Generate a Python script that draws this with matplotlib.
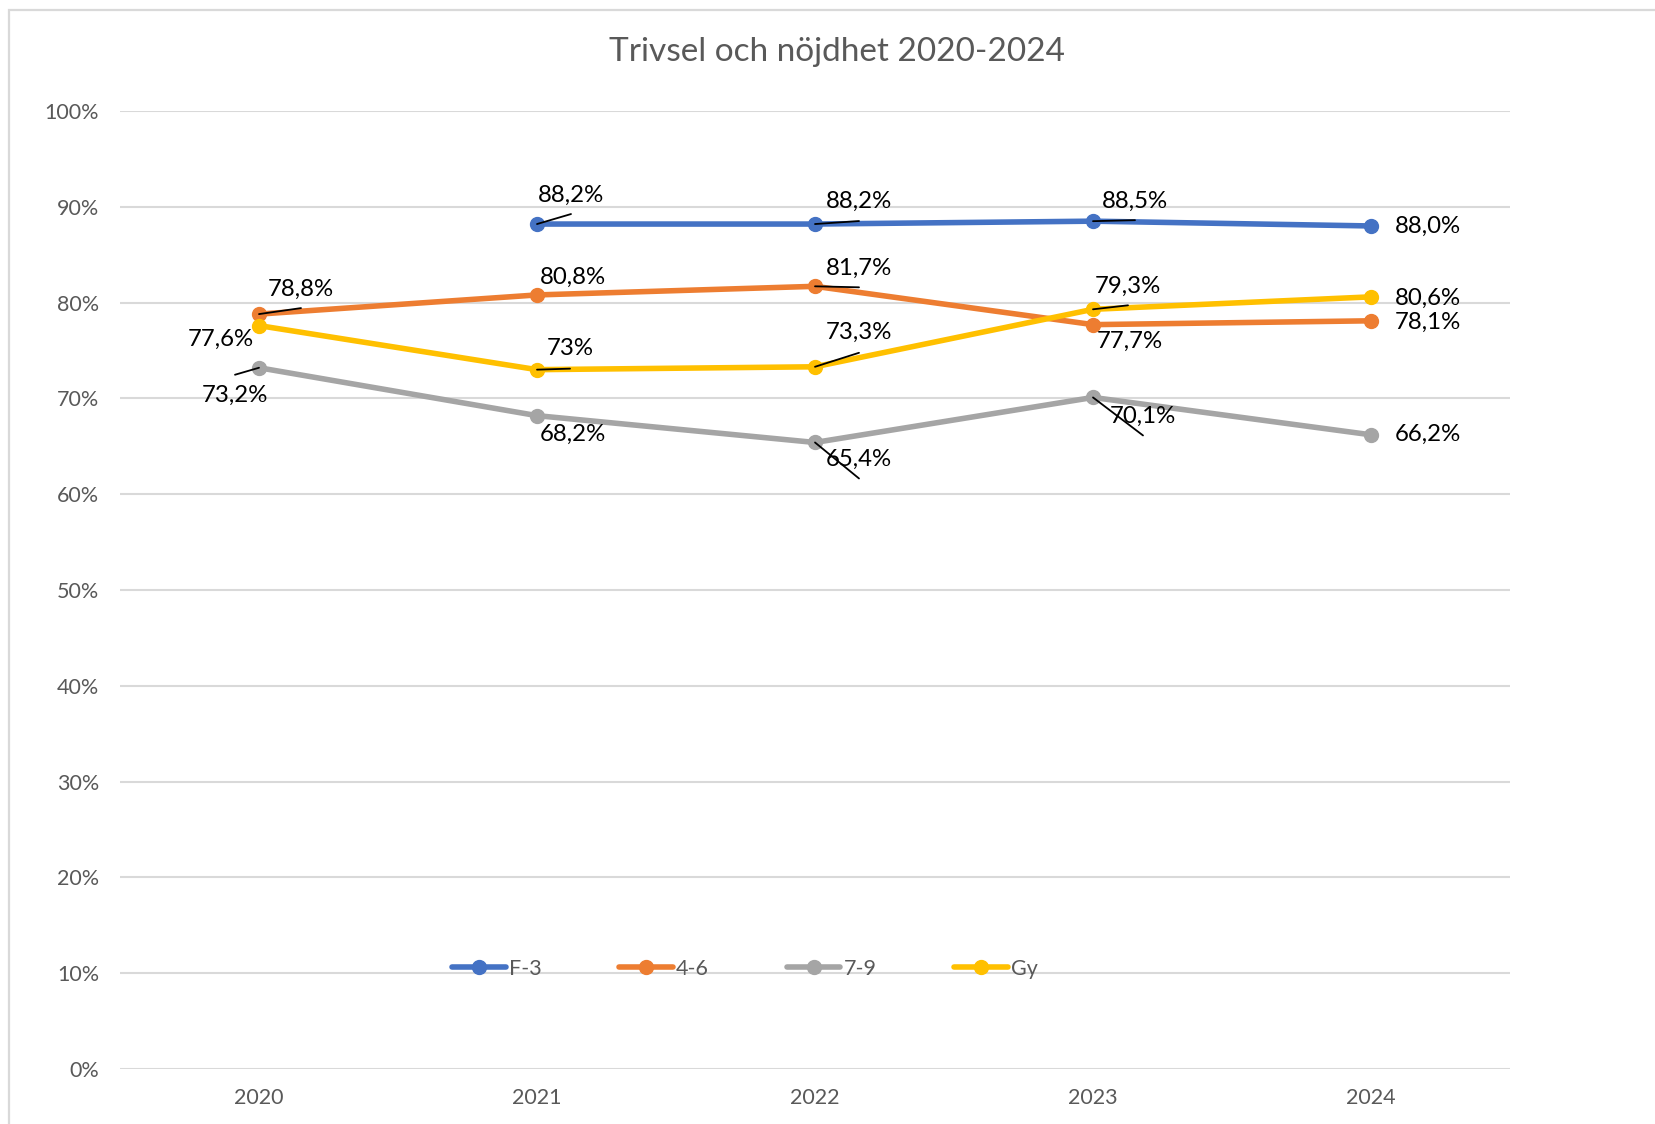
import numpy as np
import matplotlib
matplotlib.use("Agg")
from matplotlib import pyplot as plt
from matplotlib.patches import Rectangle

# data
years = ["2020", "2021", "2022", "2023", "2024"]
f3 = [np.nan, 88.2, 88.2, 88.5, 88.0]
g46 = [78.8, 80.8, 81.7, 77.7, 78.1]
g79 = [73.2, 68.2, 65.4, 70.1, 66.2]
gy = [77.6, 73.0, 73.3, 79.3, 80.6]

f3_labels = ["", "88,2%", "88,2%", "88,5%", "88,0%"]
g46_labels = ["78,8%", "80,8%", "81,7%", "77,7%", "78,1%"]
g79_labels = ["73,2%", "68,2%", "65,4%", "70,1%", "66,2%"]
gy_labels = ["77,6%", "73%", "73,3%", "79,3%", "80,6%"]

names = ["F-3", "4-6", "7-9", "Gy"]
colors = ["#4472C4", "#ED7D31", "#A5A5A5", "#FFC000"]

# label placement (offset pixels: label, leader end or None)
f3_pos = [None, ((34, 29), (34, 10)), ((44, 23), (44, 3)), ((42, 20), (42, 1)), ((57, 0), None)]
g46_pos = [((42, 25), (42, 6)), ((36, 18), None), ((44, 18), (44, -1)), ((37, -17), None), ((57, -2), None)]
g79_pos = [((-24, -28), (-24, -7)), ((36, -19), None), ((44, -17), (44, -36)), ((50, -19), (50, -38)), ((57, 0), None)]
gy_pos = [((-38, -14), None), ((33, 21), (33, 1)), ((44, 34), (44, 14)), ((35, 23), (35, 4)), ((57, -1), None)]

plt.rcParams['font.family'] = ['Lato', 'DejaVu Sans']

fig = plt.figure(figsize=(16.56, 11.24), dpi=100)
ax = fig.add_axes([120/1656, 1-1069/1124, 1390/1656, 958/1124])

# chart border (cropped)
fig.patches.append(Rectangle((9/1656, -0.1), 1.2, 1.1 - 10/1124, transform=fig.transFigure,
                             fill=False, edgecolor="#D9D9D9", lw=1.6))

x = np.arange(len(years))
series = [(f3, f3_labels, f3_pos), (g46, g46_labels, g46_pos),
          (g79, g79_labels, g79_pos), (gy, gy_labels, gy_pos)]

for (vals, labs, pos), name, col in zip(series, names, colors):
    ax.plot(x, vals, color=col, lw=4, marker="o", markersize=10, label=name,
            solid_capstyle="round", zorder=3)
    for i, v in enumerate(vals):
        if np.isnan(v) or pos[i] is None:
            continue
        txt_off, lead = pos[i]
        ax.annotate(labs[i], (x[i], v), xytext=txt_off, textcoords="offset pixels",
                    ha="center", va="center", fontsize=17.3, color="black", zorder=5)
        if lead is not None:
            ax.annotate("", (x[i], v), xytext=lead, textcoords="offset pixels",
                        arrowprops=dict(arrowstyle="-", color="black", lw=1.3,
                                        shrinkA=0, shrinkB=0), zorder=4)

ax.set_xlim(-0.5, 4.5)
ax.set_ylim(0, 100)
ax.set_yticks(np.arange(0, 101, 10))
ax.set_yticklabels([f"{t}%" for t in range(0, 101, 10)])
ax.set_xticks(x)
ax.set_xticklabels(years)
ax.tick_params(length=0, labelsize=15.5, labelcolor="#595959")
ax.tick_params(axis="y", pad=15)
ax.tick_params(axis="x", pad=14)
ax.grid(axis="y", color="#D9D9D9", lw=1.5)
ax.set_axisbelow(True)
for s in ax.spines.values():
    s.set_visible(False)

fig.text(837/1656, 1-52/1124, "Trivsel och nöjdhet 2020-2024", ha="center", va="center",
         fontsize=24, color="#595959")

leg = fig.legend(loc="center", bbox_to_anchor=(745/1656, 1-969/1124), ncol=4, frameon=False,
                 fontsize=15.5, handlelength=2.5, handletextpad=0.15, columnspacing=3.6,
                 labelcolor="#595959")

fig.savefig("out.png", dpi=100)
